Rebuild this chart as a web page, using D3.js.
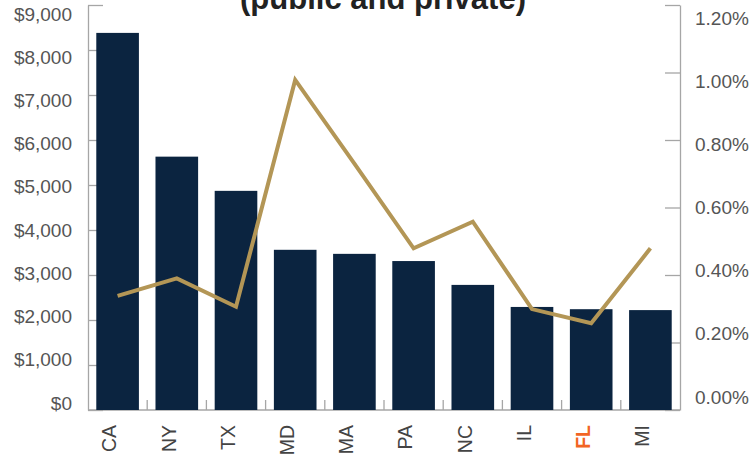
<!DOCTYPE html>
<html>
<head>
<meta charset="utf-8">
<script src="https://cdn.jsdelivr.net/npm/d3@7"></script>
<style>
	html, body { margin: 0; padding: 0; background: #fff; }
	svg { display: block; }
	.tick text { font-family: 'Liberation Sans', Arial, sans-serif; font-size: 19px; fill: #555; }
</style>
</head>
<body>
<div id="chart"></div>
<script>
// ----------------------------------
// data
// ----------------------------------
const states = ['CA', 'NY', 'TX', 'MD', 'MA', 'PA', 'NC', 'IL', 'FL', 'MI'];
const spending = [8380, 5630, 4870, 3560, 3470, 3310, 2780, 2290, 2240, 2220];
const sharePct = [0.338, 0.390, 0.306, 0.978, 0.730, 0.479, 0.558, 0.299, 0.257, 0.479];
const leftTicks = [0, 1000, 2000, 3000, 4000, 5000, 6000, 7000, 8000, 9000];
const rightTicks = [0, 0.2, 0.4, 0.6, 0.8, 1.0, 1.2];
const titleLine = '(public and private)';
const highlight = 'FL';

const width = 755,
	height = 454,
	margin = {top: 5, right: 75, bottom: 44, left: 88},
	innerWidth = width - margin.left - margin.right,
	innerHeight = height - margin.top - margin.bottom;

const navy = '#0b2440',
	gold = '#b39656',
	axisGray = '#a6a6a6';

const data = states.map((s, i) => ({state: s, spend: spending[i], share: sharePct[i]}));

const svg = d3.select('#chart')
	.append('svg')
	.attr('width', width)
	.attr('height', height);

// ----------------------------------
// scales
// ----------------------------------
const xScale = d3.scaleBand()
	.domain(states)
	.range([0, innerWidth])
	.paddingInner(0.28)
	.paddingOuter(0.14);

const yScale = d3.scaleLinear()
	.domain([0, 9000])
	.range([innerHeight, 0]);

const y2Scale = d3.scaleLinear()
	.domain([0, 1.2])
	.range([innerHeight, 0]);

// the tick labels in the original sit a bit closer together than the ticks
const yLabelScale = d3.scaleLinear().domain([0, 9000]).range([398, 9]);
const y2LabelScale = d3.scaleLinear().domain([0, 1.2]).range([392, 13]);

const g = svg.append('g')
	.attr('transform', `translate(${margin.left},${margin.top})`);

// ----------------------------------
// axes (drawn first so bars cover the ticks)
// ----------------------------------
const yAxis = d3.axisLeft(yScale)
	.tickValues(leftTicks)
	.tickSizeInner(-15)
	.tickSizeOuter(0)
	.tickPadding(16)
	.tickFormat(d => '$' + d3.format(',')(d));

const leftAxis = g.append('g')
	.attr('class', 'y axis')
	.call(yAxis);
leftAxis.select('.domain').attr('stroke', axisGray).attr('stroke-width', 1.3);
leftAxis.selectAll('.tick line').attr('stroke', axisGray).attr('stroke-width', 1.3);
leftAxis.selectAll('.tick text')
	.attr('y', d => yLabelScale(d) - yScale(d));

const y2Axis = d3.axisRight(y2Scale)
	.tickValues(rightTicks)
	.tickSizeInner(-15)
	.tickSizeOuter(0)
	.tickPadding(15)
	.tickFormat(d => d3.format('.2f')(d) + '%');

const rightAxis = g.append('g')
	.attr('class', 'y2 axis')
	.attr('transform', `translate(${innerWidth},0)`)
	.call(y2Axis);
rightAxis.select('.domain').attr('stroke', axisGray).attr('stroke-width', 1.3);
rightAxis.selectAll('.tick line').attr('stroke', axisGray).attr('stroke-width', 1.3);
rightAxis.selectAll('.tick text')
	.attr('y', d => y2LabelScale(d) - y2Scale(d));

// x axis: baseline plus ticks between the categories
const xAxisG = g.append('g')
	.attr('class', 'x axis')
	.attr('transform', `translate(0,${innerHeight})`);

xAxisG.append('line')
	.attr('x1', 0)
	.attr('x2', innerWidth)
	.attr('stroke', axisGray)
	.attr('stroke-width', 1.3);

xAxisG.selectAll('.x-tick')
	.data(states.slice(1))
	.enter()
	.append('line')
	.attr('class', 'x-tick')
	.attr('x1', d => xScale(d) - xScale.step() * xScale.paddingInner() / 2)
	.attr('x2', d => xScale(d) - xScale.step() * xScale.paddingInner() / 2)
	.attr('y1', 0)
	.attr('y2', -10)
	.attr('stroke', axisGray)
	.attr('stroke-width', 1.3);

xAxisG.selectAll('.x-label')
	.data(states)
	.enter()
	.append('text')
	.attr('class', 'x-label')
	.attr('transform', d => `translate(${xScale(d) + xScale.bandwidth() / 2 - 8},15) rotate(-90)`)
	.attr('dy', '0.35em')
	.attr('text-anchor', 'end')
	.style('font-family', "'Liberation Sans', Arial, sans-serif")
	.style('font-size', '19.5px')
	.style('font-weight', d => d === highlight ? 'bold' : 'normal')
	.attr('fill', d => d === highlight ? '#f26524' : '#444')
	.text(d => d);

// ----------------------------------
// bars
// ----------------------------------
g.append('g')
	.attr('class', 'bars')
	.selectAll('rect')
	.data(data)
	.enter()
	.append('rect')
	.attr('x', d => xScale(d.state))
	.attr('y', d => yScale(d.spend))
	.attr('width', xScale.bandwidth())
	.attr('height', d => innerHeight - yScale(d.spend))
	.attr('fill', navy);

// ----------------------------------
// line on the right axis
// ----------------------------------
const shareLine = d3.line()
	.x(d => xScale(d.state) + xScale.bandwidth() / 2)
	.y(d => y2Scale(d.share));

g.append('path')
	.datum(data)
	.attr('class', 'share-line')
	.attr('d', shareLine)
	.style('fill', 'none')
	.style('stroke', gold)
	.style('stroke-width', 4)
	.style('stroke-linejoin', 'miter');

// ----------------------------------
// title (only the bottom of the second line shows)
// ----------------------------------
svg.append('text')
	.attr('class', 'title')
	.attr('x', 383)
	.attr('y', 9)
	.attr('text-anchor', 'middle')
	.style('font-family', "'Liberation Sans', Arial, sans-serif")
	.style('font-size', '31px')
	.style('font-weight', 'bold')
	.attr('fill', '#222')
	.text(titleLine);
</script>
</body>
</html>
